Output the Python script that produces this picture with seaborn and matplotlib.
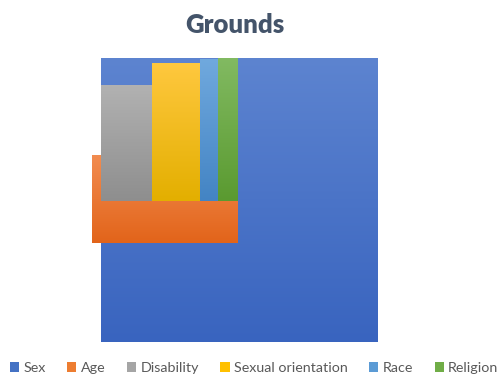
import numpy as np
import matplotlib
matplotlib.use("Agg")
import matplotlib.pyplot as plt
from matplotlib.colors import LinearSegmentedColormap
from matplotlib.patches import Patch
import seaborn as sns

# ---- data (treemap-like rectangles, in plot units 0..100) ----
categories = ["Sex", "Age", "Disability", "Sexual orientation", "Race", "Religion"]
x_start = [0.0, -3.3, 0.0, 18.5, 35.9, 42.4]
widths = [100.0, 52.6, 18.5, 17.4, 6.5, 6.9]
bottoms = [0.0, 34.9, 49.6, 49.6, 49.6, 49.6]
heights = [100.0, 30.9, 40.9, 48.6, 50.0, 50.4]
top_colors = ["#5D84D0", "#F28C50", "#B2B2B2", "#FFC83F", "#70A9DE", "#82BA62"]
bottom_colors = ["#3964BF", "#E2641A", "#8E8E8E", "#E3AF00", "#4384C4", "#5A9A30"]
legend_colors = ["#4472C4", "#ED7D31", "#A5A5A5", "#FFC000", "#5B9BD5", "#70AD47"]

sns.set_theme(style="white")
plt.rcParams["font.family"] = ["Lato", "DejaVu Sans"]

W, H = 501, 376
fig = plt.figure(figsize=(W / 100, H / 100), dpi=100)
px_per_x = 276 / 100
left_px = 101 - 5 * px_per_x
ax = fig.add_axes([left_px / W, (H - 342) / H, (377 - left_px) / W, 284 / H])
ax.set_xlim(-5, 100)
ax.set_ylim(0, 100)
ax.axis("off")

grad = np.linspace(1, 0, 256).reshape(-1, 1)
for i, cat in enumerate(categories):
    bars = ax.bar(x_start[i], heights[i], width=widths[i], bottom=bottoms[i],
                  align="edge", color=legend_colors[i], linewidth=0, zorder=i)
    patch = bars[0]
    cmap = LinearSegmentedColormap.from_list(cat, [bottom_colors[i], top_colors[i]])
    im = ax.imshow(grad, cmap=cmap, aspect="auto",
                   extent=[x_start[i], x_start[i] + widths[i],
                           bottoms[i], bottoms[i] + heights[i]],
                   origin="upper", zorder=i + 0.5, interpolation="bilinear")
    im.set_clip_path(patch)
ax.set_xlim(-5, 100)
ax.set_ylim(0, 100)

fig.text(235 / W, 1 - 25 / H, "Grounds", ha="center", va="center",
         fontsize=18.5, fontweight="heavy", color="#44546A")

handles = [Patch(facecolor=c, edgecolor="none") for c in legend_colors]
leg = fig.legend(handles, categories, loc="center", ncol=6,
                 bbox_to_anchor=(254 / W, 1 - 368 / H), frameon=False,
                 fontsize=10.3, handlelength=0.65, handleheight=0.65,
                 handletextpad=0.3, columnspacing=1.5, borderaxespad=0)
for t in leg.get_texts():
    t.set_color("#595959")

fig.savefig("out.png", dpi=100)
